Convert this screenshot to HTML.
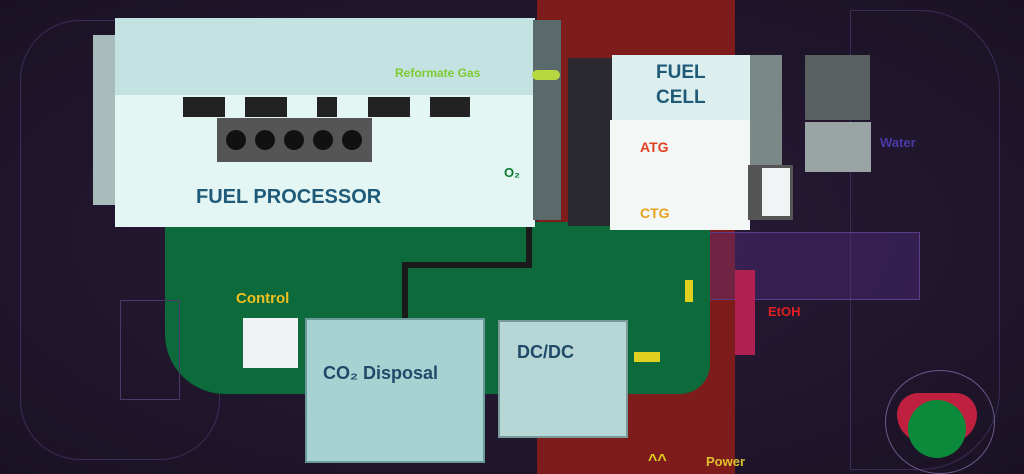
<!DOCTYPE html><html><head><style>
body{margin:0;width:1024px;height:474px;overflow:hidden;background:#1e1428;font-family:"Liberation Sans",sans-serif;position:relative}
div{position:absolute;box-sizing:border-box}
.t{font-weight:bold;white-space:nowrap}
</style></head><body>
<div style="left:0;top:0;width:1024px;height:474px;background:radial-gradient(ellipse at 50% 50%,#2a1c3a,#1a1224)"></div>
<div style="left:20px;top:20px;width:200px;height:440px;border:1px solid #3a2d5a;border-radius:60px"></div>
<div style="left:850px;top:10px;width:150px;height:460px;border:1px solid #3a2d5a;border-radius:0 80px 80px 0"></div>
<div style="left:537px;top:0;width:198px;height:474px;background:#7e1c1c"></div>
<div style="left:705px;top:232px;width:215px;height:68px;background:rgba(90,50,140,0.35);border:1px solid #5a3e8a"></div>
<div style="left:165px;top:222px;width:545px;height:172px;background:#0d6a3a;border-radius:0 0 30px 60px"></div>
<div style="left:402px;top:262px;width:130px;height:6px;background:#1a1a1a"></div>
<div style="left:526px;top:225px;width:6px;height:43px;background:#1a1a1a"></div>
<div style="left:402px;top:262px;width:6px;height:58px;background:#1a1a1a"></div>
<div style="left:120px;top:300px;width:60px;height:100px;border:1px solid #4a3a6a"></div>
<div style="left:93px;top:35px;width:27px;height:170px;background:#a9bcbc"></div>
<div style="left:115px;top:18px;width:420px;height:80px;background:#c4e2e2"></div>
<div style="left:115px;top:95px;width:420px;height:132px;background:#e3f6f3"></div>
<div style="left:533px;top:20px;width:28px;height:200px;background:#5a6a6a"></div>
<div style="left:217px;top:118px;width:155px;height:44px;background:#555"></div>
<div style="left:226px;top:130px;width:20px;height:20px;border-radius:50%;background:#111"></div>
<div style="left:255px;top:130px;width:20px;height:20px;border-radius:50%;background:#111"></div>
<div style="left:284px;top:130px;width:20px;height:20px;border-radius:50%;background:#111"></div>
<div style="left:313px;top:130px;width:20px;height:20px;border-radius:50%;background:#111"></div>
<div style="left:342px;top:130px;width:20px;height:20px;border-radius:50%;background:#111"></div>
<div style="left:183px;top:97px;width:42px;height:20px;background:#222"></div>
<div style="left:245px;top:97px;width:42px;height:20px;background:#222"></div>
<div style="left:317px;top:97px;width:20px;height:20px;background:#222"></div>
<div style="left:368px;top:97px;width:42px;height:20px;background:#222"></div>
<div style="left:430px;top:97px;width:40px;height:20px;background:#222"></div>
<div class="t" style="left:196px;top:186px;font-size:20px;color:#1f5a78">FUEL PROCESSOR</div>
<div class="t" style="left:395px;top:66px;font-size:12px;color:#7ccc30">Reformate Gas</div>
<div style="left:532px;top:70px;width:28px;height:10px;background:#b8d840;border-radius:5px"></div>
<div class="t" style="left:504px;top:165px;font-size:13px;color:#0a7a30">O₂</div>
<div style="left:568px;top:58px;width:58px;height:168px;background:#2a2a30"></div>
<div style="left:612px;top:55px;width:140px;height:68px;background:#dcefee"></div>
<div style="left:750px;top:55px;width:32px;height:110px;background:#7a8888"></div>
<div style="left:610px;top:120px;width:140px;height:110px;background:#f3f7f6"></div>
<div style="left:748px;top:165px;width:45px;height:55px;background:#555"></div>
<div style="left:762px;top:168px;width:28px;height:48px;background:#f0f4f4"></div>
<div class="t" style="left:656px;top:60px;font-size:19px;line-height:25px;color:#1f5a78">FUEL<br>CELL</div>
<div class="t" style="left:640px;top:139px;font-size:14px;color:#e04020">ATG</div>
<div class="t" style="left:640px;top:205px;font-size:14px;color:#e8a020">CTG</div>
<div style="left:805px;top:55px;width:65px;height:65px;background:#5a6060"></div>
<div style="left:805px;top:122px;width:66px;height:50px;background:#9aa4a4"></div>
<div class="t" style="left:880px;top:135px;font-size:13px;color:#4a3aa8">Water</div>
<div class="t" style="left:768px;top:304px;font-size:13px;color:#e02020">EtOH</div>
<div style="left:735px;top:270px;width:20px;height:85px;background:#b02050"></div>
<div class="t" style="left:236px;top:290px;font-size:15px;color:#f0c020">Control</div>
<div style="left:243px;top:318px;width:55px;height:50px;background:#eef2f2"></div>
<div style="left:305px;top:318px;width:180px;height:145px;background:#a6d2d2;border:2px solid #6a9a9a"></div>
<div class="t" style="left:323px;top:363px;font-size:18px;color:#1f4a68">CO₂ Disposal</div>
<div style="left:498px;top:320px;width:130px;height:118px;background:#b7d6d6;border:2px solid #7a9a9a"></div>
<div class="t" style="left:517px;top:342px;font-size:18px;color:#1f4a68">DC/DC</div>
<div style="left:634px;top:352px;width:26px;height:10px;background:#e0d020"></div>
<div class="t" style="left:706px;top:454px;font-size:13px;color:#e0c030">Power</div>
<div class="t" style="left:648px;top:452px;font-size:16px;color:#e0d020">^^</div>
<div style="left:685px;top:280px;width:8px;height:22px;background:#e0d020"></div>
<div style="left:885px;top:370px;width:110px;height:104px;border:1px solid #6a5a8a;border-radius:50%"></div>
<div style="left:897px;top:393px;width:80px;height:50px;background:#c02040;border-radius:30px 30px 40px 40px"></div>
<div style="left:908px;top:400px;width:58px;height:58px;background:#0a8a3a;border-radius:50%"></div>
</body></html>
